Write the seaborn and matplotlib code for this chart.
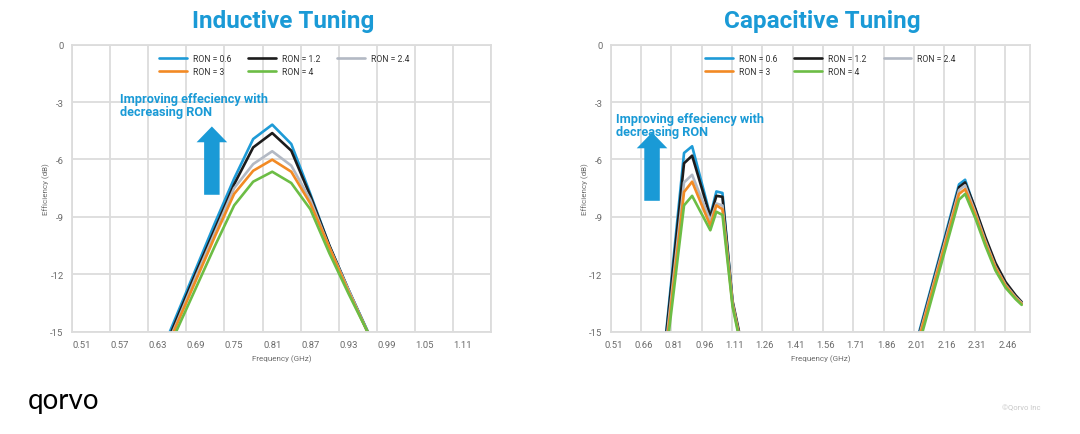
import numpy as np
import pandas as pd
import matplotlib
matplotlib.use("Agg")
import matplotlib.pyplot as plt
import matplotlib.patches as mpatches
import seaborn as sns

# ---------------- data ----------------
series = ["RON = 0.6", "RON = 1.2", "RON = 2.4", "RON = 3", "RON = 4"]
colors = ["#1e9bd7", "#1c1c1c", "#b3b9c4", "#f28a24", "#6cbd45"]

ind_freq = [0.63, 0.66, 0.69, 0.72, 0.75, 0.78, 0.81, 0.84, 0.87, 0.90, 0.93, 0.96, 0.99]
ind_ron06 = [-16.5, -14.1, -11.7, -9.3, -7.0, -4.93, -4.18, -5.19, -7.8, -10.5, -12.8, -14.95, -17.3]
ind_ron12 = [-16.7, -14.3, -11.9, -9.6, -7.3, -5.37, -4.62, -5.54, -7.9, -10.5, -12.8, -15.0, -17.3]
ind_ron24 = [-16.8, -14.5, -12.1, -9.8, -7.5, -6.24, -5.57, -6.32, -8.1, -10.6, -12.8, -15.0, -17.3]
ind_ron3 = [-17.0, -14.6, -12.3, -10.0, -7.8, -6.59, -6.01, -6.64, -8.3, -10.6, -12.9, -15.0, -17.3]
ind_ron4 = [-17.2, -14.9, -12.7, -10.5, -8.4, -7.16, -6.64, -7.23, -8.6, -10.9, -13.0, -15.0, -17.3]

cap_freq = [0.74, 0.86, 0.90, 0.99, 1.02, 1.05, 1.10, 1.16,
            1.99, 2.22, 2.25, 2.30, 2.35, 2.40, 2.45, 2.50, 2.53]
cap_ron06 = [-18.4, -5.66, -5.31, -8.94, -7.67, -7.75, -13.5, -16.5,
             -16.3, -7.3, -7.06, -8.6, -10.15, -11.5, -12.5, -13.15, -13.5]
cap_ron12 = [-18.4, -6.2, -5.8, -9.0, -7.9, -7.95, -13.4, -16.4,
             -16.4, -7.45, -7.2, -8.55, -10.05, -11.4, -12.4, -13.1, -13.45]
cap_ron24 = [-18.6, -7.2, -6.8, -9.2, -8.3, -8.4, -13.5, -16.6,
             -16.5, -7.6, -7.35, -8.75, -10.25, -11.6, -12.55, -13.2, -13.5]
cap_ron3 = [-18.8, -7.7, -7.16, -9.46, -8.4, -8.6, -13.6, -16.6,
            -16.6, -7.8, -7.55, -8.85, -10.35, -11.65, -12.6, -13.25, -13.55]
cap_ron4 = [-19.0, -8.4, -7.9, -9.7, -8.73, -8.9, -13.7, -16.7,
            -16.9, -8.1, -7.8, -9.05, -10.5, -11.8, -12.7, -13.3, -13.6]

ind_ticks = [0.51, 0.57, 0.63, 0.69, 0.75, 0.81, 0.87, 0.93, 0.99, 1.05, 1.11]
cap_ticks = [0.51, 0.66, 0.81, 0.96, 1.11, 1.26, 1.41, 1.56, 1.71, 1.86, 2.01, 2.16, 2.31, 2.46]
y_ticks = [-15, -12, -9, -6, -3, 0]

titles = ["Inductive Tuning", "Capacitive Tuning"]
annot = "Improving effeciency with\ndecreasing RON"


def long_df(freq, cols):
    rows = []
    for name, vals in zip(series, cols):
        for f, v in zip(freq, vals):
            rows.append({"freq": f, "eff": v, "series": name})
    return pd.DataFrame(rows)


df_ind = long_df(ind_freq, [ind_ron06, ind_ron12, ind_ron24, ind_ron3, ind_ron4])
df_cap = long_df(cap_freq, [cap_ron06, cap_ron12, cap_ron24, cap_ron3, cap_ron4])

# ---------------- style ----------------
sns.set_theme(style="white")
plt.rcParams["font.family"] = ["Roboto", "DejaVu Sans"]
plt.rcParams["axes.unicode_minus"] = False

BLUE = "#1a9ad6"
GRID = "#dcdcdc"
TXT = "#6b6b6b"

fig = plt.figure(figsize=(10.8, 4.35), dpi=100)
ax_l = fig.add_axes([0.0667, 0.2352, 0.388, 0.6598])
ax_r = fig.add_axes([0.5655, 0.2352, 0.3882, 0.6598])

configs = [
    (ax_l, df_ind, ind_ticks, (0.4947, 1.1547), 0.06, 0.5065,
     (0.115, 0.835), (0.3337, 0.477)),
    (ax_r, df_cap, cap_ticks, (0.4975, 2.571), 0.15, 0.524,
     (0.012, 0.765), (0.0985, 0.456)),
]

# row-wise legend order for a 3-column legend (matplotlib fills column-wise)
leg_order = [0, 3, 1, 4, 2]

for i, (ax, df, xt, xlim, step, leg_x, txt_pos, arr_pos) in enumerate(configs):
    sns.lineplot(data=df, x="freq", y="eff", hue="series", hue_order=series,
                 palette=colors, linewidth=1.9, sort=True, estimator=None,
                 ax=ax, legend=True)
    ax.set_xlim(*xlim)
    ax.set_ylim(-15, 0)
    ax.set_xticks(xt)
    ax.set_xticklabels([f"{v:.2f}" for v in xt])
    ax.set_xticks(np.arange(xlim[0], xlim[1] + 1e-6, step), minor=True)
    ax.set_yticks(y_ticks)
    ax.set_yticklabels([str(v) for v in y_ticks])
    ax.grid(False, which="major", axis="x")
    ax.grid(True, which="minor", axis="x", color=GRID, linewidth=1.3)
    ax.grid(True, which="major", axis="y", color=GRID, linewidth=1.3)
    ax.set_axisbelow(True)
    ax.tick_params(axis="both", which="both", length=0, labelsize=6.8,
                   labelcolor=TXT)
    ax.tick_params(axis="x", pad=6)
    ax.tick_params(axis="y", pad=6)
    for sp in ax.spines.values():
        sp.set_color(GRID)
        sp.set_linewidth(1.3)
    ax.set_xlabel("Frequency (GHz)", fontsize=5.8, color=TXT, labelpad=4)
    ax.set_ylabel("Efficiency (dB)", fontsize=5.8, color=TXT, labelpad=0)

    handles, labels = ax.get_legend_handles_labels()
    handles = [handles[k] for k in leg_order]
    labels = [labels[k] for k in leg_order]
    ax.legend(handles, labels, loc="upper center", bbox_to_anchor=(leg_x, 0.995),
              ncol=3, frameon=False, fontsize=6.2, handlelength=3.2,
              handletextpad=0.7, columnspacing=2.0, labelspacing=0.45,
              labelcolor="#333333")
    for lh in ax.get_legend().get_lines():
        lh.set_linewidth(1.9)

    ax.text(txt_pos[0], txt_pos[1], annot, transform=ax.transAxes,
            fontsize=9.2, fontweight="bold", color=BLUE, ha="left", va="top",
            linespacing=1.0)
    arrow = mpatches.FancyArrow(arr_pos[0], arr_pos[1], 0, 0.238,
                                width=0.037, head_width=0.073, head_length=0.055,
                                length_includes_head=True, transform=ax.transAxes,
                                color=BLUE, lw=0)
    ax.add_patch(arrow)

    cx = (ax.get_position().x0 + ax.get_position().x1) / 2
    fig.text(cx + 0.0015, 0.935, titles[i], ha="center", va="baseline",
             fontsize=17.5, fontweight="bold", color=BLUE)

fig.text(0.026, 0.06, "qorvo", fontsize=20, color="black", ha="left",
         va="baseline", family=["Lato", "DejaVu Sans"], fontweight="normal")
fig.text(0.928, 0.058, "\u00a9Qorvo Inc", fontsize=5.5, color="#c8c8c8",
         ha="left", va="baseline")

fig.savefig("out.png", dpi=100)
